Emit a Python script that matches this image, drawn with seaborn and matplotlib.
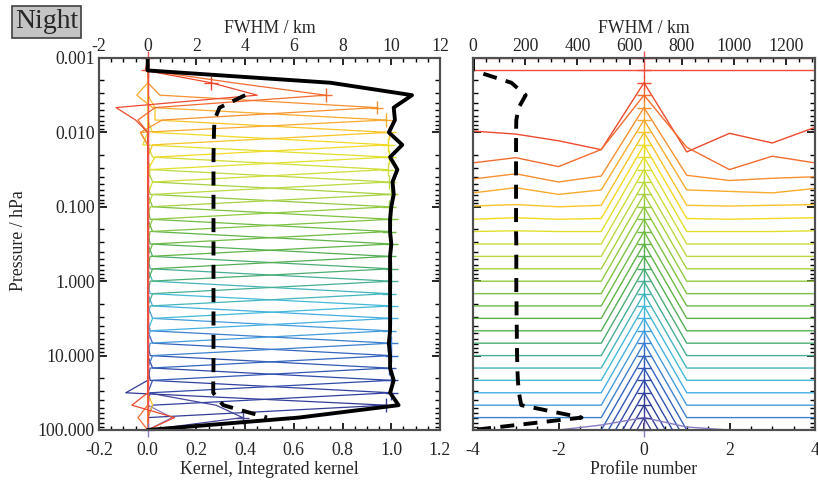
import numpy as np
import pandas as pd
import matplotlib
matplotlib.use("Agg")
import matplotlib.pyplot as plt
import seaborn as sns
from matplotlib.colors import LinearSegmentedColormap, to_hex
from matplotlib.ticker import FixedLocator, FixedFormatter, MultipleLocator, LogLocator, NullFormatter

sns.set_style("ticks")
plt.rcParams["font.family"] = ["Liberation Serif", "DejaVu Serif"]

# ---------------- data ----------------
pressure = [0.001, 0.00147, 0.00215, 0.00316, 0.00464, 0.00681,
            0.01, 0.0147, 0.0215, 0.0316, 0.0464, 0.0681,
            0.1, 0.147, 0.215, 0.316, 0.464, 0.681,
            1.0, 1.47, 2.15, 3.16, 4.64, 6.81,
            10.0, 14.7, 21.5, 31.6, 46.4, 68.1, 100.0]
profiles = [-4, -3, -2, -1, 0, 1, 2, 3, 4]

# averaging kernel rows: diagonal, value one level above, one level below
kernel_diag = [0.0, 0.0, 0.26, 0.73, 0.94, 0.98, 0.99, 0.985, 0.99, 0.985,
               0.99, 1.0, 0.99, 1.0, 0.99, 1.0, 0.99, 1.0, 1.0, 0.99,
               1.0, 1.0, 0.99, 1.0, 1.0, 0.99, 1.0, 1.0, 0.98, 0.39, 0.0]
kernel_above = [0.0, 0.0, -0.01, 0.35, 0.05, 0.02, 0.03, 0.02, -0.02, 0.02,
                0.01, 0.02, 0.01, 0.02, 0.01, 0.02, 0.01, 0.02, 0.01, 0.02,
                0.01, 0.02, 0.02, 0.01, 0.02, 0.01, 0.02, 0.01, -0.09, 0.28, 0.0]
kernel_below = [0.0, 0.0, 0.45, 0.03, 0.06, -0.03, 0.02, 0.03, 0.01, 0.02,
                0.02, 0.01, 0.02, 0.01, 0.02, 0.01, 0.02, 0.01, 0.02, 0.01,
                0.02, 0.01, 0.01, 0.02, 0.01, 0.02, 0.01, 0.02, 0.0, 0.0, 0.0]
# (row, level, value) further off-diagonal elements
kernel_extra = [(2, 4, -0.13), (2, 5, -0.05), (2, 28, -0.065), (2, 29, 0.11),
                (3, 5, -0.04), (3, 29, -0.04), (5, 3, -0.045), (6, 4, 0.03),
                (4, 6, -0.03), (6, 28, 0.02), (30, 29, 0.1)]

integrated_kernel = [0.0, 0.0, 0.75, 1.085, 1.01, 1.015, 0.99, 1.045, 0.995, 1.025,
                     1.005, 1.01, 1.0, 0.995, 0.995, 1.0, 0.995, 0.995, 0.995, 0.995,
                     0.995, 0.995, 0.995, 0.99, 0.995, 0.995, 1.01, 0.995, 1.03, 0.62, 0.0]
fwhm_vertical_km = [np.nan, np.nan, np.nan, 4.0, 2.95, 2.74, 2.72, 2.71, 2.7, 2.7,
                    2.7, 2.7, 2.7, 2.7, 2.7, 2.7, 2.7, 2.7, 2.7, 2.7,
                    2.7, 2.7, 2.7, 2.7, 2.7, 2.7, 2.69, 2.69, 3.1, 4.9, np.nan]
fwhm_horizontal_km = [0, 0, 147, 202, 175, 166, 165, 165, 165, 165,
                      165, 165, 165, 165, 165, 166, 166, 166, 166, 166,
                      167, 167, 168, 168, 169, 170, 172, 176, 185, 416, 0]

# horizontal kernels normalised to the central profile (profiles -4..4)
horiz_kernel = [
    [1, 1, 1, 1, 1, 1, 1, 1, 1],
    [1, 1, 1, 1, 1, 1, 1, 1, 1],
    [0.35, 0.31, 0.22, 0.10, 1, 0.07, 0.32, 0.19, 0.40],
    [0.09, 0.16, 0.04, 0.27, 1, 0.30, 0.0, 0.18, 0.09],
    [0.04, 0.11, 0.0, 0.08, 1, 0.09, 0.02, 0.05, 0.07],
    [0.02, 0.09, 0.0, 0.06, 1, 0.06, 0.04, 0.02, 0.08],
    [0.01, 0.03, 0.0, 0.02, 1, 0.02, 0.01, 0.02, 0.03],
    [0.0, 0.02, 0.0, 0.01, 1, 0.01, 0.0, 0.01, 0.02],
    [0.0, 0.01, 0.0, 0.0, 1, 0.0, 0.0, 0.0, 0.01],
    [0, 0, 0, 0, 1, 0, 0, 0, 0],
    [0, 0, 0, 0, 1, 0, 0, 0, 0],
    [0, 0, 0, 0, 1, 0, 0, 0, 0],
    [0, 0, 0, 0, 1, 0, 0, 0, 0],
    [0, 0, 0, 0, 1, 0, 0, 0, 0],
    [0, 0, 0, 0, 1, 0, 0, 0, 0],
    [0, 0, 0, 0, 1, 0, 0, 0, 0],
    [0, 0, 0, 0, 1, 0, 0, 0, 0],
    [0, 0, 0, 0, 1, 0, 0, 0, 0],
    [0, 0, 0, 0, 1, 0, 0, 0, 0],
    [0, 0, 0, 0, 1, 0, 0, 0, 0],
    [0, 0, 0, 0, 1, 0, 0, 0, 0],
    [0, 0, 0, 0, 1, 0, 0, 0, 0],
    [0, 0, 0, 0, 1, 0, 0, 0, 0],
    [0, 0, 0, 0, 1, 0, 0, 0, 0],
    [0, 0, 0, 0, 1, 0, 0, 0, 0],
    [0, 0, 0, 0, 1, 0, 0, 0, 0],
    [0, 0, 0, 0, 1, 0, 0, 0, 0],
    [0, 0, 0, 0, 1, 0, 0, 0, 0],
    [0, 0, 0, 0, 1, 0, 0, 0, 0],
    [0, 0, 0, 0, 1, 0, 0, 0, 0],
    [1, 1, 1, 1.067, 1.167, 1.04, 1, 1, 1],
]

ytick_values = [0.001, 0.01, 0.1, 1.0, 10.0, 100.0]
ytick_labels = ["0.001", "0.010", "0.100", "1.000", "10.000", "100.000"]
kernel_ticks = [-0.2, 0.0, 0.2, 0.4, 0.6, 0.8, 1.0, 1.2]
kernel_ticklabels = ["-0.2", "0.0", "0.2", "0.4", "0.6", "0.8", "1.0", "1.2"]
fwhm_v_ticks = [-2, 0, 2, 4, 6, 8, 10, 12]
profile_ticks = [-4, -2, 0, 2, 4]
fwhm_h_ticks = [0, 200, 400, 600, 800, 1000, 1200]

# ---------------- tables ----------------
n = len(pressure)
A = np.zeros((n, n))
for i in range(n):
    A[i, i] = kernel_diag[i]
    if i > 0:
        A[i, i - 1] = kernel_above[i]
    if i < n - 1:
        A[i, i + 1] = kernel_below[i]
for r, l, v in kernel_extra:
    A[r, l] = v

df_k = pd.DataFrame([(i, j, A[i, j], pressure[j]) for i in range(n) for j in range(n)],
                    columns=["row", "lev", "val", "p"])
df_km = pd.DataFrame({"row": range(n), "val": kernel_diag, "p": pressure})
df_int = pd.DataFrame({"val": integrated_kernel, "p": pressure})
df_fv = pd.DataFrame({"km": fwhm_vertical_km, "p": pressure})
df_fh = pd.DataFrame({"km": fwhm_horizontal_km, "p": pressure})
df_h = pd.DataFrame([(i, k, pressure[i] * 10 ** (1 - horiz_kernel[i][ki]))
                     for i in range(n) for ki, k in enumerate(profiles)],
                    columns=["row", "prof", "y"])
df_hm = pd.DataFrame({"row": range(n), "prof": [0] * n, "p": pressure})

cmap = LinearSegmentedColormap.from_list("rb", [
    (0.00, "#f05050"), (0.07, "#ec4a2c"), (0.11, "#f47a30"), (0.15, "#f8a030"),
    (0.20, "#f8c428"), (0.24, "#f0e020"), (0.32, "#c4dc40"), (0.42, "#84c440"),
    (0.52, "#58b048"), (0.58, "#48ac7c"), (0.63, "#44b4b8"), (0.68, "#44bce4"),
    (0.74, "#4498dc"), (0.80, "#3466c0"), (0.88, "#3044a4"), (0.96, "#343a90"),
    (1.00, "#8a7cc4")])
palette = {i: to_hex(cmap(i / (n - 1))) for i in range(n)}

# ---------------- figure ----------------
W, H = 818, 480
fig = plt.figure(figsize=(W / 100, H / 100), dpi=100)
ax1 = fig.add_axes([99 / W, 50 / H, 341 / W, 372 / H])
ax2 = fig.add_axes([473 / W, 50 / H, 342 / W, 372 / H])
for ax in (ax1, ax2):
    ax.set_yscale("log")
    ax.set_ylim(100, 0.001)

# left panel
sns.lineplot(data=df_k, x="val", y="p", hue="row", hue_order=list(range(n))[::-1],
             palette=palette, sort=False, estimator=None, legend=False,
             linewidth=0.9, ax=ax1)
sns.scatterplot(data=df_km, x="val", y="p", hue="row", palette=palette, marker="+",
                s=95, linewidth=1.0, legend=False, ax=ax1, zorder=3, clip_on=False)
sns.lineplot(data=df_int, x="val", y="p", sort=False, estimator=None, color="black",
             linewidth=2.8, ax=ax1, zorder=5)
ax1.set_xlim(-0.2, 1.2)
ax1t = ax1.twiny()
sns.lineplot(data=df_fv, x="km", y="p", sort=False, estimator=None, color="black",
             linewidth=2.8, linestyle=(0, (3.6, 2.4)), ax=ax1t)
ax1t.set_xlim(-2, 12)
ax1.set_ylim(100, 0.001)

# right panel
sns.lineplot(data=df_h, x="prof", y="y", hue="row", hue_order=list(range(n)),
             palette=palette, sort=False, estimator=None, legend=False,
             linewidth=1.0, ax=ax2)
sns.scatterplot(data=df_hm, x="prof", y="p", hue="row", palette=palette, marker="+",
                s=95, linewidth=1.0, legend=False, ax=ax2, zorder=3, clip_on=False)
ax2.set_xlim(-4, 4)
ax2t = ax2.twiny()
sns.lineplot(data=df_fh, x="km", y="p", sort=False, estimator=None, color="black",
             linewidth=2.8, linestyle=(0, (3.6, 2.4)), ax=ax2t)
ax2t.set_xlim(0, 1311)
ax2.set_ylim(100, 0.001)

FS = 12.8
spine_c = "#505050"
for ax in (ax1, ax1t, ax2, ax2t):
    for s in ax.spines.values():
        s.set_color(spine_c)
        s.set_linewidth(1.5)

for ax, twin in ((ax1, ax1t), (ax2, ax2t)):
    ax.yaxis.set_major_locator(FixedLocator(ytick_values))
    ax.yaxis.set_minor_locator(LogLocator(base=10, subs=range(2, 10)))
    ax.yaxis.set_minor_formatter(NullFormatter())
    ax.yaxis.set_ticks_position("both")
    ax.tick_params(axis="y", which="major", direction="in", length=6, width=1.2,
                   color="black", labelsize=FS, pad=3)
    ax.tick_params(axis="y", which="minor", direction="in", length=3.5, width=1.0,
                   color="black")
    ax.tick_params(axis="x", which="major", direction="in", length=5, width=1.2,
                   color="black", labelsize=FS, pad=8.5, bottom=True, top=False)
    ax.tick_params(axis="x", which="minor", direction="in", length=3, width=1.0,
                   color="black", bottom=True, top=False)
    twin.tick_params(axis="x", which="major", direction="in", length=5, width=1.2,
                     color="black", labelsize=FS, pad=2.5, top=True, bottom=False)
    twin.tick_params(axis="x", which="minor", direction="in", length=3, width=1.0,
                     color="black", top=True, bottom=False)

ax1.yaxis.set_major_formatter(FixedFormatter(ytick_labels))
ax2.tick_params(axis="y", labelleft=False)

ax1.set_xticks(kernel_ticks)
ax1.set_xticklabels(kernel_ticklabels)
ax1.xaxis.set_minor_locator(MultipleLocator(0.05))
ax1t.set_xticks(fwhm_v_ticks)
ax1t.set_xticklabels([str(t) for t in fwhm_v_ticks])
ax1t.xaxis.set_minor_locator(MultipleLocator(0.5))
ax2.set_xticks(profile_ticks)
ax2.set_xticklabels([str(t) for t in profile_ticks])
ax2.xaxis.set_minor_locator(MultipleLocator(0.5))
ax2t.set_xticks(fwhm_h_ticks)
ax2t.set_xticklabels([str(t) for t in fwhm_h_ticks])
ax2t.xaxis.set_minor_locator(MultipleLocator(50))

ax1.set_xlabel("Kernel, Integrated kernel", fontsize=FS)
ax1.xaxis.set_label_coords(0.5, -0.082)
ax1.set_ylabel("Pressure / hPa", fontsize=FS)
ax1.yaxis.set_label_coords(-0.21, 0.51)
ax1t.set_xlabel("FWHM / km", fontsize=FS)
ax1t.xaxis.set_label_coords(0.5, 1.068)
ax2.set_xlabel("Profile number", fontsize=FS)
ax2.xaxis.set_label_coords(0.5, -0.082)
ax2.set_ylabel("")
ax2t.set_xlabel("FWHM / km", fontsize=FS)
ax2t.xaxis.set_label_coords(0.5, 1.068)
for t in (ax1t, ax2t):
    t.set_ylabel("")

fig.text(15 / W, 1 - 22 / H, "Night", fontsize=20, ha="left", va="center",
         bbox=dict(boxstyle="square,pad=0.12", fc="#c4c4c4", ec="#404040", lw=1.2))

fig.savefig("out.png", dpi=100)
